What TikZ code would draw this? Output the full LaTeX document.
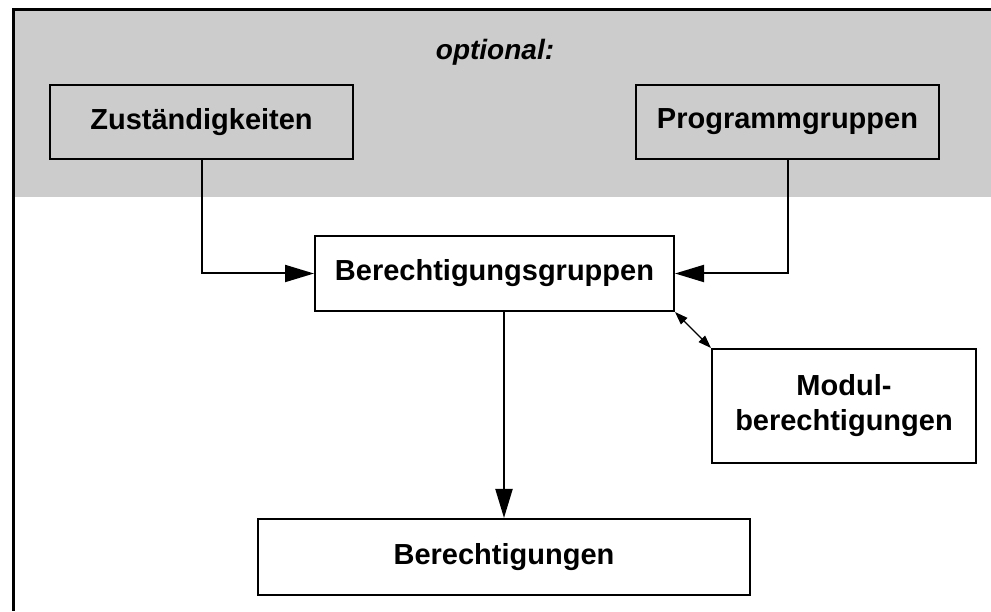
\documentclass[tikz,border=0pt]{standalone}
\usepackage{fontspec}
\setmainfont{Liberation Sans}
\usetikzlibrary{calc, arrows.meta}

\definecolor{bandgray}{HTML}{CCCCCC}

\begin{document}
\begin{tikzpicture}[x=1pt, y=1pt,
		box/.style={draw, line width=2pt, rectangle, inner sep=0pt, align=center, font=\fontsize{29}{35}\selectfont\bfseries},
		conn/.style={line width=2pt, -{Triangle[length=29pt, width=17pt]}},
		both/.style={line width=1.2pt, {Triangle[length=13pt, width=9pt]}-{Triangle[length=13pt, width=9pt]}}]
			\useasboundingbox (0,0) rectangle (991,611);
			
			\fill[bandgray] (13,601) rectangle (991,414);
			\draw[line width=3pt] (991,601) -- (13,601) -- (13,0);
			
			\node(opt) [font=\fontsize{28}{34}\selectfont\bfseries\itshape] at (495,559){optional:};
			
			\node(zust) [box, minimum width=303, minimum height=74] at (201.5,489){Zuständigkeiten};
			\node(prog) [box, minimum width=303, minimum height=74] at (787.5,489){Programmgruppen};
			\node(bgr) [box, fill=white, minimum width=359, minimum height=75] at (494.5,337.5){Berechtigungsgruppen};
			\node(mod) [box, fill=white, minimum width=264, minimum height=114] at (844,205){Modul-\\berechtigungen};
			\node(ber) [box, fill=white, minimum width=492, minimum height=76] at (504,54){Berechtigungen};
			
			\draw[conn] (zust.south) |- (bgr.west);
			\draw[conn] (prog.south) |- (bgr.east);
			\draw[conn] (ber.north |- bgr.south) -- (ber.north);
			\draw[both] (bgr.south east) -- (mod.north west);
			
		\end{tikzpicture}
\end{document}
